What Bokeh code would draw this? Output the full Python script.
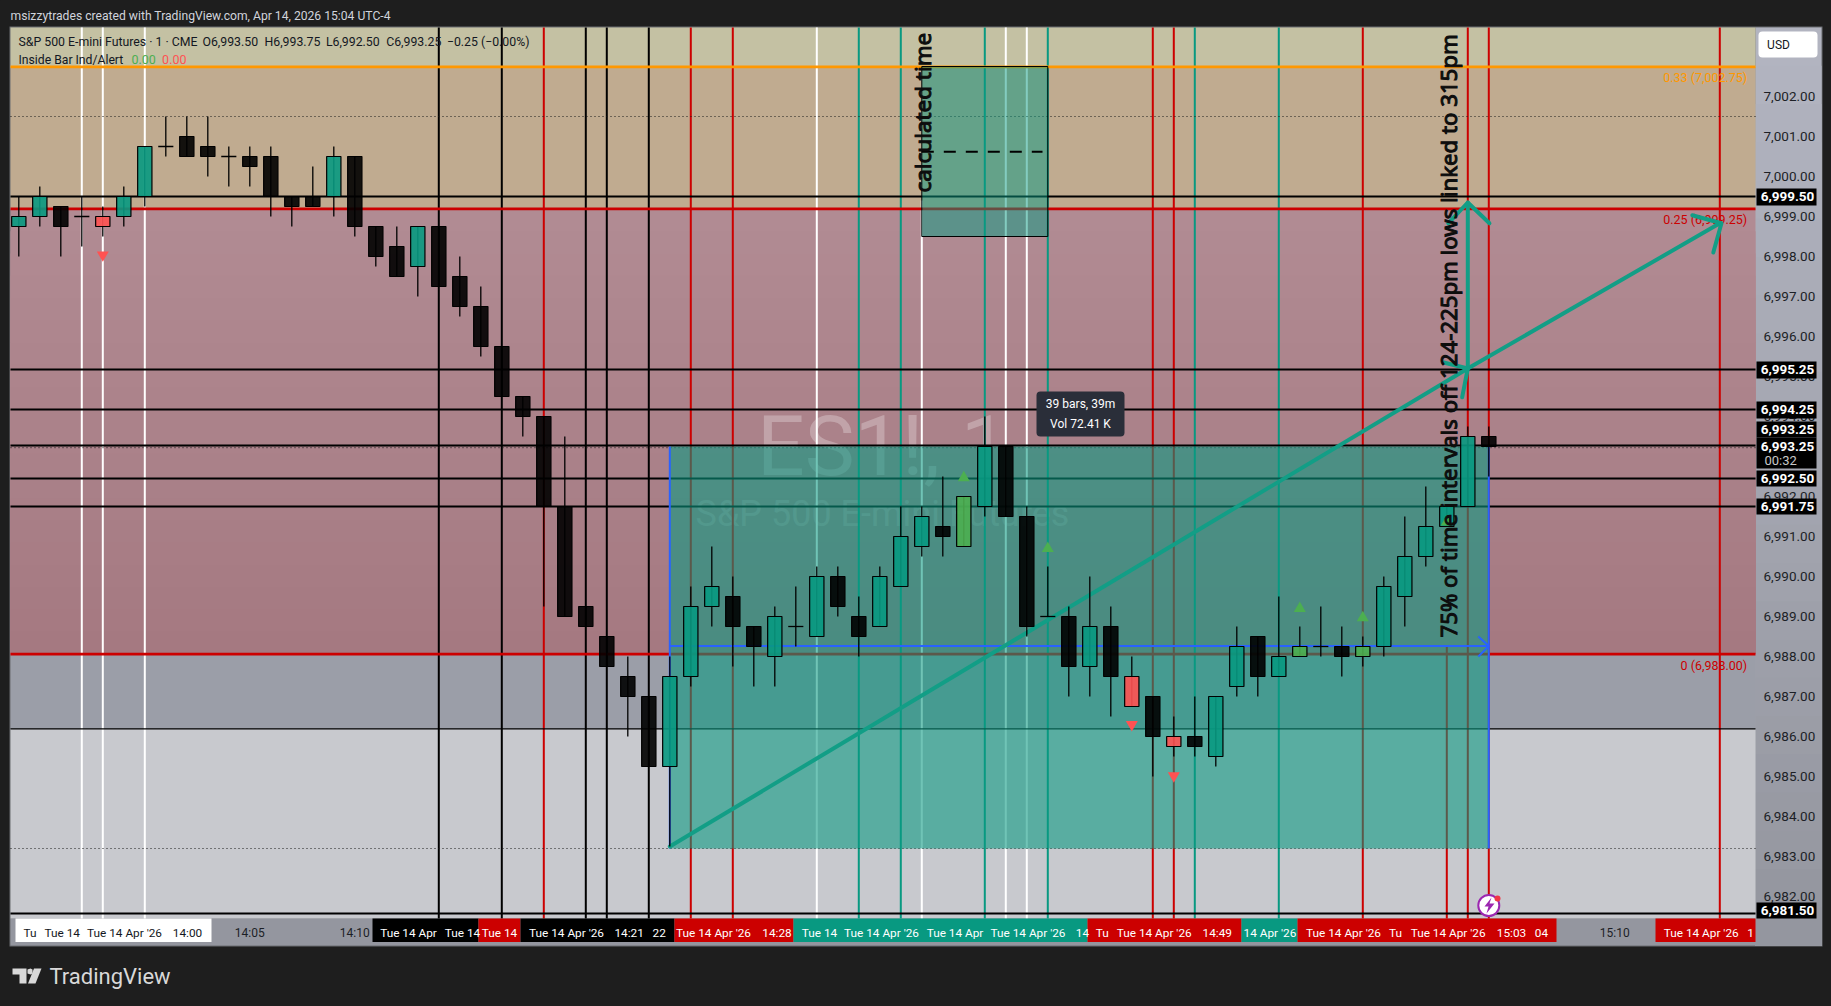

import math
from bokeh.plotting import figure
from bokeh.embed import file_html
from bokeh.resources import INLINE
from bokeh.core.properties import value
from bokeh.models import (Range1d, FixedTicker, NumeralTickFormatter, BoxAnnotation, Label, PolyAnnotation)

# ---------- candles: open, high, low, close ----------
opens = [6998.75,6999.0,6999.25,6999.0,6999.0,6999.0,6999.5,7000.75,7001.0,7000.75,7000.5,7000.5,7000.5,6999.5,6999.5,6999.5,7000.5,
 6998.75,6998.25,6997.75,6998.75,6997.5,6996.75,6995.75,6994.5,6994.0,6991.75,6989.25,6988.5,6987.5,6987.0,6985.25,6987.5,6989.25,
 6989.5,6988.75,6988.0,6988.75,6988.5,6990.0,6989.0,6988.75,6989.75,6990.75,6991.25,6990.75,6991.75,6993.25,6991.5,6989.0,6989.0,
 6987.75,6988.75,6987.5,6987.0,6986.0,6986.0,6985.5,6987.25,6988.5,6987.5,6988.0,6988.25,6988.25,6988.0,6988.25,6989.5,6990.5,6991.25,6991.75,6993.5]
highs = [6999.5,6999.75,6999.25,6999.5,6999.25,6999.75,7000.75,7001.5,7001.5,7001.5,7000.75,7000.75,7000.75,6999.5,7000.25,7000.75,7000.5,
 6998.75,6998.75,6998.75,6998.75,6998.0,6997.25,6995.75,6994.5,6994.0,6993.5,6989.25,6988.5,6988.0,6987.0,6988.0,6989.75,6990.75,
 6990.0,6988.75,6989.25,6989.75,6990.25,6990.25,6989.5,6990.25,6991.75,6991.75,6992.5,6992.0,6994.0,6993.25,6991.75,6990.25,6989.25,
 6990.0,6989.25,6988.0,6987.0,6986.5,6987.0,6987.0,6988.75,6988.5,6989.5,6988.75,6989.25,6988.75,6988.5,6990.0,6991.5,6992.25,6991.75,6993.75,6993.75]
lows = [6998.0,6998.75,6998.0,6998.25,6998.5,6998.75,6999.25,7000.5,7000.5,7000.0,6999.75,6999.75,6999.0,6998.75,6999.25,6999.0,6998.5,
 6997.75,6997.5,6997.0,6997.25,6996.5,6995.5,6994.5,6993.5,6989.25,6989.0,6988.75,6987.75,6986.0,6985.25,6983.25,6987.25,6988.75,
 6987.75,6987.25,6987.25,6988.25,6988.5,6989.0,6988.0,6988.75,6989.75,6990.5,6990.5,6990.75,6991.5,6991.5,6988.5,6989.0,6987.0,
 6987.0,6986.5,6986.75,6985.0,6985.5,6985.5,6985.25,6987.0,6987.0,6987.5,6988.0,6988.0,6987.5,6987.75,6988.0,6988.75,6990.25,6991.25,6991.75,6992.5]
closes = [6999.0,6999.5,6998.75,6999.0,6998.75,6999.5,7000.75,7000.75,7000.5,7000.5,7000.5,7000.25,6999.5,6999.25,6999.25,7000.5,6998.75,
 6998.0,6997.5,6998.75,6997.25,6996.75,6995.75,6994.5,6994.0,6991.75,6989.0,6988.75,6987.75,6987.0,6985.25,6987.5,6989.25,6989.75,
 6988.75,6988.25,6989.0,6988.75,6990.0,6989.25,6988.5,6990.0,6991.0,6991.5,6991.0,6992.0,6993.25,6991.5,6988.75,6989.0,6987.75,
 6988.75,6987.5,6986.75,6986.0,6985.75,6985.75,6987.0,6988.25,6987.5,6988.0,6988.25,6988.25,6988.0,6988.25,6989.75,6990.5,6991.25,6991.75,6993.5,6993.25]
red_bars = [4, 53, 55]
green_bars = [45, 61, 64]

# ---------- signal markers ----------
tri_up_x = [45, 49, 61, 64, 68]
tri_up_y = [6992.47, 6990.7, 6989.2, 6988.97, 6991.36]
tri_dn_x = [4, 53, 55]
tri_dn_y = [6998.04, 6986.3, 6985.02]

# ---------- levels ----------
level_solid = [6999.5, 6995.175, 6994.175, 6993.275, 6992.45, 6991.75, 6981.575]
level_dotted = [7001.5, 6993.22, 6983.2]
level_thin = [6986.19]
fib_orange = 7002.74
fib_red = [6999.19, 6988.06]
price_ticks = [6982,6983,6984,6985,6986,6987,6988,6989,6990,6991,6992,6993,6994,6995,6996,6997,6998,6999,7000,7001,7002]

# ---------- vertical marks by bar number ----------
v_white = [3, 4, 6, 38, 47, 48]
v_black = [20, 23, 27, 28, 30]
v_red = [25, 32, 34, 54, 55, 64, 69, 70, 81]
v_teal = [40, 42, 46, 49, 56, 60]

# ---------- drawings ----------
box_x = [31, 70]
box_y = [6983.2, 6993.25]
small_box_x = [43, 49]
small_box_y = [6998.5, 7002.75, 7000.62]
arrow_main_x = [31, 69, 81]
arrow_main_y = [6983.25, 6995.2, 6998.83]
arrow_up_x = [69, 69]
arrow_up_y = [6995.2, 6999.35]
head_a_x = [67.85, 69, 68.73]
head_a_y = [6995.35, 6995.2, 6994.48]
head_b_x = [79.69, 81.08, 80.69]
head_b_y = [6999.03, 6998.83, 6998.1]
head_c_x = [68.07, 69, 70.03]
head_c_y = [6998.83, 6999.35, 6998.83]
blue_y = 6988.26
blue_head_x = [69.5, 70, 69.5]
blue_head_y = [6988.5, 6988.26, 6988.0]

# ---------- time labels ----------
time_ticks = {11: "14:05", 16: "14:10", 76: "15:10"}
flag_rects = [(15,211,"#ffffff"),(372,478,"#000000"),(478,520,"#cc0000"),(520,674,"#000000"),(674,793,"#cc0000"),
              (793,1087,"#089981"),(1087,1241,"#cc0000"),(1241,1297,"#089981"),(1297,1556,"#cc0000"),(1655,1755,"#cc0000")]
L = "Tue 14 Apr '26"
flag_texts = [("Tu",29.6,"k"),("Tue 14",61.7,"k"),(L,124,"k"),("14:00",187,"k"),
  ("Tue 14 Apr",408,"w"),("Tue 14",462,"w"),("Tue 14",499,"w"),(L,566,"w"),("14:21",628.6,"w"),("22",658.7,"w"),
  (L,713,"w"),("14:28",776.5,"w"),("Tue 14",819,"w"),(L,881,"w"),("Tue 14 Apr",954.5,"w"),(L,1027.5,"w"),("14",1082,"w"),
  ("Tu",1101.8,"w"),(L,1153.7,"w"),("14:49",1216.8,"w"),("14 Apr '26",1269.4,"w"),(L,1343,"w"),("Tu",1395,"w"),
  (L,1447.6,"w"),("15:03",1511,"w"),("04",1541,"w"),(L,1700.7,"w"),("1",1750,"w")]
price_flags = [("6,999.50",196,188,205),("6,995.25",369,361,378),("6,994.25",409,401,418),("6,993.25",428.5,421,437),
               ("6,993.25",446,437,468),("6,992.50",478,470,486),("6,991.75",506,498,514),("6,981.50",909.5,902,918)]
legend_pieces = [("S&P 500 E-mini Futures · 1 · CME",18),("O6,993.50",202),("H6,993.75",264),("L6,992.50",325.4),("C6,993.25",385.7),("−0.25 (−0.00%)",446.4)]

FONT = "Roboto"
W, H = 1831, 1006
def price(py): return 6993.25 + (446 - py) / 40
def bar(px): return (px - 18.3) / 21

p = figure(width=W, height=H, x_range=Range1d(bar(0), bar(W)), y_range=Range1d(price(H), price(0)),
           toolbar_location=None, output_backend="svg", y_axis_location="right",
           min_border=0, min_border_left=0, min_border_right=0, min_border_top=0, min_border_bottom=0,
           background_fill_color="#1e1e1e", border_fill_color="#1e1e1e", outline_line_color=None)
p.grid.visible = False

p.yaxis.fixed_location = bar(1755)
p.yaxis.ticker = FixedTicker(ticks=price_ticks)
p.yaxis.formatter = NumeralTickFormatter(format="0,0.00")
p.yaxis.axis_line_color = None
p.yaxis.major_tick_line_color = None
p.yaxis.minor_tick_line_color = None
p.yaxis.major_tick_out = 0
p.yaxis.major_label_text_color = "#1c1f26"
p.yaxis.major_label_text_font = FONT
p.yaxis.major_label_text_font_size = "13.5px"
p.yaxis.major_label_standoff = 8

p.xaxis.fixed_location = price(918)
p.xaxis.ticker = FixedTicker(ticks=list(time_ticks))
p.xaxis.major_label_overrides = time_ticks
p.xaxis.axis_line_color = None
p.xaxis.major_tick_line_color = None
p.xaxis.minor_tick_line_color = None
p.xaxis.major_tick_out = 0
p.xaxis.major_label_text_color = "#1c1f26"
p.xaxis.major_label_text_font = FONT
p.xaxis.major_label_text_font_size = "12px"
p.xaxis.major_label_standoff = 7

def lerp(a, b, t):
    return "#%02x%02x%02x" % tuple(round(a[i] + (b[i] - a[i]) * t) for i in range(3))

# zones and scale panes
x0, x1 = bar(10), bar(1755)
xr = bar(1821)
ybot, ytop = price(918), price(27)
yaxbot = price(945)
p.quad(left=bar(9), right=bar(1822), bottom=price(946), top=price(26), fill_color="#6a6c70", line_color=None)
n = 24
for i in range(n):
    c = lerp((178, 180, 192), (148, 150, 159), i / (n - 1))
    p.quad(left=x1, right=xr, top=price(27 + i * 918 / n), bottom=yaxbot, fill_color=c, line_color=None)
p.quad(left=x0, right=x1, bottom=yaxbot, top=ybot, fill_color="#94969f", line_color=None)
p.quad(left=x0, right=x1, bottom=fib_orange, top=ytop, fill_color="#c4c1a3", line_color=None)
p.quad(left=x0, right=x1, bottom=fib_red[0], top=fib_orange, fill_color="#c0ab90", line_color=None)
n = 20
for i in range(n):
    t0 = fib_red[0] + (fib_red[1] - fib_red[0]) * i / n
    p.quad(left=x0, right=x1, top=t0, bottom=fib_red[1], fill_color=lerp((177, 139, 147), (165, 121, 129), i / (n - 1)), line_color=None)
p.quad(left=x0, right=x1, top=fib_red[1], bottom=level_thin[0], fill_color="#9b9ea8", line_color=None)
p.quad(left=x0, right=x1, top=level_thin[0], bottom=ybot, fill_color="#c8c9ce", line_color=None)

# watermark
p.text(x=[bar(882)], y=[price(446)], text=["ES1!, 1"], text_font=value(FONT), text_font_size="84px",
       text_color="#ffffff", text_alpha=0.27, text_align="center", text_baseline="middle")
p.text(x=[bar(882)], y=[price(513)], text=["S&P 500 E-mini Futures"], text_font=value(FONT), text_font_size="36px",
       text_color="#ffffff", text_alpha=0.2, text_align="center", text_baseline="middle")

# vertical lines
def vlines(xs, color, lo=ybot, hi=ytop, w=2):
    p.segment(x0=xs, x1=xs, y0=[lo] * len(xs), y1=[hi] * len(xs), line_color=color, line_width=w)
vlines(v_white, "#ffffff")
vlines([43], "#ffffff", hi=6999.4)
vlines(v_black, "#000000")
vlines(v_red, "#cc0000")
vlines([68], "#cc0000", hi=blue_y)
vlines(v_teal, "#089981")

# horizontal lines
def hlines(ys, color, w=2, dash="solid"):
    p.segment(x0=[x0] * len(ys), x1=[x1] * len(ys), y0=ys, y1=ys, line_color=color, line_width=w, line_dash=dash)
hlines(level_solid, "#000000", 2)
hlines(level_thin, "#000000", 1.2)
hlines([fib_orange], "#ff9800", 2.6)
hlines(fib_red, "#cc0000", 2.6)
hlines(level_dotted, "#1a1a1a", 1, "1 3")

# fib labels
for txt, py, col in [("0.33 (7,002.75)", 77.3, "#ff9800"), ("0.25 (6,999.25)", 219, "#cc0000"), ("0 (6,988.00)", 664.7, "#cc0000")]:
    p.text(x=[bar(1746.7)], y=[price(py)], text=[txt], text_font=value(FONT), text_font_size="12.5px", text_color=col,
           text_align="right", text_baseline="middle")

# boxes
p.quad(left=box_x[0], right=box_x[1], bottom=box_y[0], top=box_y[1], fill_color="#089981", fill_alpha=0.58, line_color=None)
p.quad(left=small_box_x[0], right=small_box_x[1], bottom=small_box_y[0], top=small_box_y[1],
       fill_color="#089981", fill_alpha=0.5, line_color="#000000", line_width=1)
p.line(x=[small_box_x[0], bar(1042)], y=[small_box_y[2]] * 2, line_color="#000000", line_width=2, line_dash="12 10")

# blue guides
p.segment(x0=[box_x[0], box_x[1], box_x[0]], x1=[box_x[0], box_x[1], box_x[1]],
          y0=[box_y[0], box_y[0], blue_y], y1=[box_y[1], box_y[1], blue_y], line_color="#2962ff", line_width=2)
p.line(x=blue_head_x, y=blue_head_y, line_color="#2962ff", line_width=2)

# teal arrows
for xs, ys in [(arrow_main_x, arrow_main_y), (arrow_up_x, arrow_up_y), (head_a_x, head_a_y), (head_b_x, head_b_y), (head_c_x, head_c_y)]:
    p.line(x=xs, y=ys, line_color="#129e86", line_width=4, line_cap="round", line_join="round")

# candles
idx = list(range(len(opens)))
p.segment(x0=idx, x1=idx, y0=lows, y1=highs, line_color="#000000", line_width=1.3)
for i in idx:
    o, c = opens[i], closes[i]
    if o == c:
        p.segment(x0=[i - 0.36], x1=[i + 0.36], y0=[o], y1=[o], line_color="#000000", line_width=1.3)
        continue
    col = "#000000"
    if c > o:
        col = "#089981"
    if i in red_bars:
        col = "#ff5252"
    if i in green_bars:
        col = "#4caf50"
    p.vbar(x=[i], width=0.68, top=[max(o, c)], bottom=[min(o, c)], fill_color=col, fill_alpha=0.9, line_color="#000000", line_width=1.2)

# markers
p.scatter(x=tri_up_x, y=tri_up_y, marker="triangle", size=12, fill_color="#4caf50", line_color=None)
p.scatter(x=tri_dn_x, y=tri_dn_y, marker="inverted_triangle", size=12, fill_color="#ff5252", line_color=None)

# rotated notes
p.text(x=[bar(1448)], y=[price(637)], text=["75% of time intervals off 124-225pm lows linked to 315pm"], angle=[math.pi / 2],
       text_font=value("Noto Sans"), text_font_size="22.2px", text_color="#0d0d0d", text_outline_color="#0d0d0d",
       text_align="left", text_baseline="middle")
p.text(x=[bar(921.7)], y=[price(192)], text=["calculated time"], angle=[math.pi / 2],
       text_font=value("Noto Sans"), text_font_size="22.4px", text_color="#0d0d0d", text_outline_color="#0d0d0d",
       text_align="left", text_baseline="middle")

# alert icon
p.scatter(x=[70], y=[price(905)], marker="circle", size=21, fill_color="#ffffff", line_color="#9c27b0", line_width=2)
p.scatter(x=[bar(1497)], y=[price(898)], marker="circle", size=6, fill_color="#f23645", line_color=None)

def box(l, r, t, b, col, radius=0, level="annotation"):
    b_ = BoxAnnotation(left=l, right=r, top=t, bottom=b,
                       left_units="canvas", right_units="canvas", top_units="canvas", bottom_units="canvas",
                       fill_color=col, fill_alpha=1, line_color=None, level=level)
    if radius:
        b_.border_radius = radius
    p.add_layout(b_)

def label(txt, px, py, col, size="12.5px", align="left", style="normal", font=FONT):
    p.add_layout(Label(x=px, y=py, x_units="canvas", y_units="canvas", text=txt, text_color=col,
                       text_font=font, text_font_size=size, text_font_style=style, text_align=align, text_baseline="middle"))

# lightning
p.add_layout(PolyAnnotation(xs=[1491, 1484, 1488, 1486, 1494, 1489], ys=[897, 906, 906, 913, 903, 903],
                            xs_units="canvas", ys_units="canvas", fill_color="#9c27b0", fill_alpha=1, line_color=None))

# time flags
for l, r, col in flag_rects:
    box(l, r, 918, 941.5, col)
for txt, px, k in flag_texts:
    label(txt, px, 932.7, "#131722" if k == "k" else "#ffffff", size="11.8px", align="center")

# price flags
for txt, py, t, b in price_flags:
    box(1756, 1816, t, b, "#000000")
for txt, py, t, b in price_flags:
    label(txt, 1787, py, "#ffffff", size="13.5px", align="center", style="bold")
label("00:32", 1764, 460, "#c8c8c8", size="13px")

# USD button
box(1758, 1817, 31, 57, "#ffffff", radius=4)
label("USD", 1778, 44.7, "#131722", size="12px", align="center")

# measure tooltip
box(1036, 1124, 391, 436, "#2a2e39", radius=4)
label("39 bars, 39m", 1080, 403, "#ffffff", size="12px", align="center")
label("Vol 72.41 K", 1080, 423, "#ffffff", size="12px", align="center")

# legend
for txt, px in legend_pieces:
    label(txt, px, 41.7, "#131722", size="12.3px")
label("Inside Bar Ind/Alert", 18, 59, "#131722", size="12.2px")
label("0.00", 131, 59, "#4caf50")
label("0.00", 161.6, 59, "#ff5252")

# header and footer
label("msizzytrades created with TradingView.com, Apr 14, 2026 15:04 UTC-4", 10, 15, "#d1d4dc", size="12.15px")
label("TradingView", 49, 976, "#d9d9d9", size="22px")
for xs, ys in [((12, 26, 26, 19, 19, 12), (968, 968, 983, 983, 974, 974)),
               ((33.5, 41, 35, 27.5), (968, 968, 983, 983)),
               ((27, 30, 32, 32, 30, 27), (969, 968, 969, 973, 974, 973))]:
    p.add_layout(PolyAnnotation(xs=list(xs), ys=list(ys), xs_units="canvas", ys_units="canvas",
                                fill_color="#d9d9d9", fill_alpha=1, line_color=None))

html = file_html(p, INLINE)
html = html.replace("<head>", "<head><style>html,body{background:#1e1e1e;margin:0;padding:0;overflow:hidden}</style>", 1)
open("out.html", "w").write(html)
